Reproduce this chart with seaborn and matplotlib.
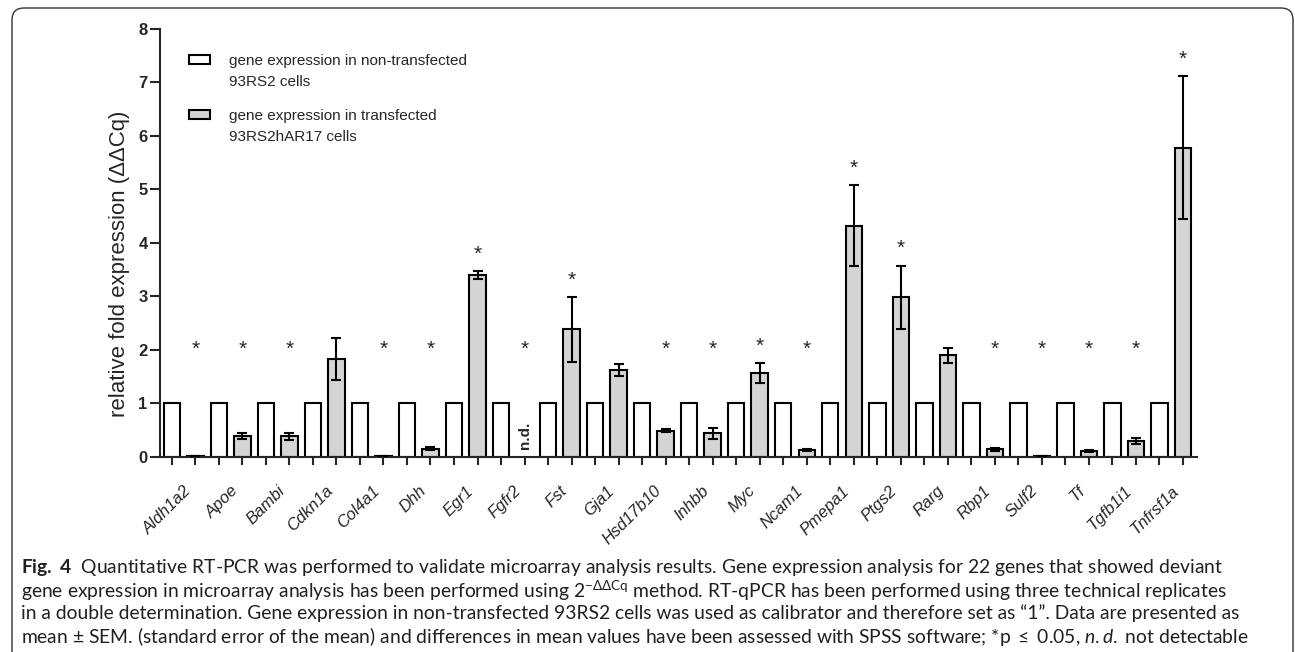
import matplotlib
matplotlib.use("Agg")
import matplotlib.pyplot as plt
import seaborn as sns
import pandas as pd
import numpy as np
from matplotlib.patches import FancyBboxPatch, Patch, Rectangle
from matplotlib.legend_handler import HandlerPatch
from matplotlib.transforms import IdentityTransform

# Données
genes = ['Aldh1a2', 'Apoe', 'Bambi', 'Cdkn1a', 'Col4a1', 'Dhh', 'Egr1', 'Fgfr2',
         'Fst', 'Gja1', 'Hsd17b10', 'Inhbb', 'Myc', 'Ncam1', 'Pmepa1', 'Ptgs2',
         'Rarg', 'Rbp1', 'Sulf2', 'Tf', 'Tgfb1i1', 'Tnfrsf1a']
non_transfected = [1.0] * 22
transfected = [0.01, 0.39, 0.38, 1.82, 0.02, 0.15, 3.40, np.nan, 2.38, 1.62, 0.49,
               0.44, 1.56, 0.12, 4.32, 2.98, 1.90, 0.14, 0.01, 0.11, 0.29, 5.78]
transfected_sem = [0.0, 0.06, 0.07, 0.39, 0.0, 0.03, 0.07, np.nan, 0.60, 0.11, 0.02,
                   0.10, 0.19, 0.02, 0.76, 0.59, 0.14, 0.03, 0.0, 0.02, 0.06, 1.33]
significant = [1, 1, 1, 0, 1, 1, 1, 1, 1, 0, 1, 1, 1, 1, 1, 1, 0, 1, 1, 1, 1, 1]

label_non = 'gene expression in non-transfected\n93RS2 cells'
label_tr = 'gene expression in transfected\n93RS2hAR17 cells'

caption_lines = [
    r"$\mathbf{Fig.\ 4}$  Quantitative RT-PCR was performed to validate microarray analysis results. "
    "Gene expression analysis for 22 genes that showed deviant",
    r"gene expression in microarray analysis has been performed using 2$^{-\Delta\Delta\mathrm{Cq}}$ method. "
    "RT-qPCR has been performed using three technical replicates",
    "in a double determination. Gene expression in non-transfected 93RS2 cells was used as calibrator "
    "and therefore set as \u201c1\u201d. Data are presented as",
    r"mean $\pm$ SEM. (standard error of the mean) and differences in mean values have been assessed "
    r"with SPSS software; *p $\leq$ 0.05, $\mathit{n.d.}$ not detectable",
]

WHITE = 'white'
GREY = '#d4d4d4'

sns.set_style('ticks')
plt.rcParams['font.family'] = ['Liberation Sans', 'DejaVu Sans']
plt.rcParams['mathtext.fontset'] = 'custom'
plt.rcParams['mathtext.rm'] = 'Lato'
plt.rcParams['mathtext.it'] = 'Lato:italic'
plt.rcParams['mathtext.bf'] = 'Lato:bold'

df = pd.DataFrame({
    'gene': genes * 2,
    'value': non_transfected + transfected,
    'cells': [label_non] * len(genes) + [label_tr] * len(genes),
})

fig = plt.figure(figsize=(12.95, 6.52), dpi=100)
ax = fig.add_axes([0.1236, 0.2995, 0.8008, 0.6564])

sns.barplot(data=df, x='gene', y='value', hue='cells', order=genes,
            hue_order=[label_non, label_tr], palette=[WHITE, GREY], saturation=1,
            width=1.0, gap=0.3, edgecolor='black', linewidth=1.5,
            errorbar=None, legend=False, ax=ax)

# Barres d'erreur (SEM)
pos = np.arange(len(genes))
ax.errorbar(pos + 0.25, transfected, yerr=transfected_sem, fmt='none',
            ecolor='black', elinewidth=1.5, capsize=3.5, capthick=1.5, zorder=3)

# Etoiles de significativité et n.d.
for i, (v, s, sig) in enumerate(zip(transfected, transfected_sem, significant)):
    if sig:
        y = max(2.0, np.nan_to_num(v) + np.nan_to_num(s) + 0.32)
        ax.text(i + 0.25, y, '*', ha='center', va='center', fontsize=15)
    if np.isnan(v):
        ax.text(i + 0.25, 0.4, 'n.d.', rotation=90, ha='center', va='center',
                fontweight='bold', fontsize=11)

# Axes
ax.set_xlim(-0.5, 21.55)
ax.set_ylim(0, 8)
ax.set_yticks(range(9))
ax.set_xticks(pos)
ax.set_xticklabels(genes, rotation=45, ha='right', rotation_mode='anchor',
                   fontstyle='italic', fontsize=12)
ax.set_xticks(np.concatenate([pos - 0.25, pos + 0.25]), minor=True)
ax.tick_params(axis='x', which='major', length=0, pad=19)
ax.tick_params(axis='x', which='minor', length=5.5, width=1.5)
ax.tick_params(axis='y', length=7.5, width=1.5, labelsize=12, pad=1.5)
for lbl in ax.get_yticklabels():
    lbl.set_fontweight('bold')
ax.set_xlabel('')
ax.set_ylabel('relative fold expression (\u0394\u0394Cq)', fontsize=16)
ax.yaxis.set_label_coords(-0.029, 0.45)
sns.despine(ax=ax)
for side in ['left', 'bottom']:
    ax.spines[side].set_linewidth(1.5)


def first_line_patch(legend, orig_handle, xdescent, ydescent, width, height, fontsize):
    # aligne le carré sur la première ligne du libellé
    return Rectangle((-xdescent, -ydescent + 0.78 * fontsize), width, height)


handles = [Patch(facecolor=WHITE, edgecolor='black', linewidth=1.5),
           Patch(facecolor=GREY, edgecolor='black', linewidth=1.5)]
leg = ax.legend(handles, [label_non, label_tr], loc='upper left',
                bbox_to_anchor=(189 / 1295, 1 - 54 / 652), bbox_transform=fig.transFigure,
                frameon=False, fontsize=11, handlelength=1.4, handleheight=0.55,
                handletextpad=1.2, labelspacing=1.3, borderpad=0, borderaxespad=0,
                handler_map={Patch: HandlerPatch(patch_func=first_line_patch)})
for t in leg.get_texts():
    t.set_linespacing(1.65)

# Cadre arrondi
frame = FancyBboxPatch((12, -30), 1281, 674, boxstyle='round,pad=0,rounding_size=12',
                       transform=IdentityTransform(), facecolor='none',
                       edgecolor='#333333', linewidth=1.0)
fig.add_artist(frame)

# Légende de la figure
caption_y = [568, 591, 613, 636]
texts = []
for line, yy in zip(caption_lines, caption_y):
    t = fig.text(21 / 1295, 1 - yy / 652, line, ha='left', va='center', fontsize=11,
                 family=['Lato', 'DejaVu Sans'], color='#231f20')
    texts.append(t)
fig.canvas.draw()
renderer = fig.canvas.get_renderer()
w = texts[3].get_window_extent(renderer).width
for t in texts:
    t.set_fontsize(11 * 1226 / w)

fig.savefig('out.png', dpi=100)
